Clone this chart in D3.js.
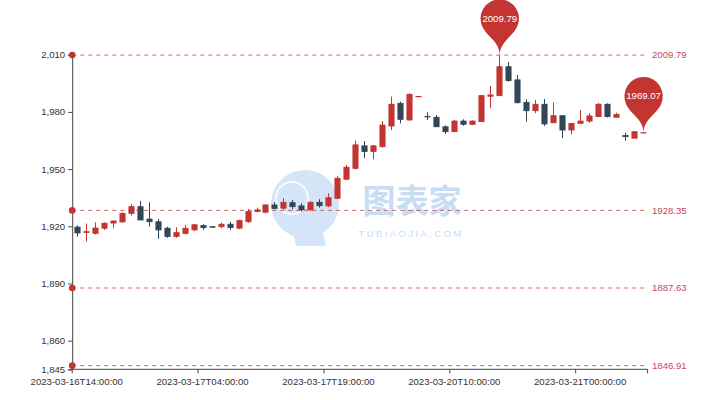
<!DOCTYPE html>
<html><head><meta charset="utf-8">
<script src="https://cdn.jsdelivr.net/npm/d3@7/dist/d3.min.js"></script>
<style>html,body{margin:0;padding:0;background:#fff;}svg{display:block;}</style>
</head><body>
<div id="chart"></div>
<script>
const categories = [
"2023-03-16T14:00:00","2023-03-16T15:00:00","2023-03-16T16:00:00","2023-03-16T17:00:00","2023-03-16T18:00:00",
"2023-03-16T19:00:00","2023-03-16T20:00:00","2023-03-16T21:00:00","2023-03-16T22:00:00","2023-03-16T23:00:00",
"2023-03-17T00:00:00","2023-03-17T01:00:00","2023-03-17T02:00:00","2023-03-17T03:00:00","2023-03-17T04:00:00",
"2023-03-17T06:00:00","2023-03-17T07:00:00","2023-03-17T08:00:00","2023-03-17T09:00:00","2023-03-17T10:00:00",
"2023-03-17T11:00:00","2023-03-17T12:00:00","2023-03-17T13:00:00","2023-03-17T14:00:00","2023-03-17T15:00:00",
"2023-03-17T16:00:00","2023-03-17T17:00:00","2023-03-17T18:00:00","2023-03-17T19:00:00","2023-03-17T20:00:00",
"2023-03-17T21:00:00","2023-03-17T22:00:00","2023-03-17T23:00:00","2023-03-18T00:00:00","2023-03-18T01:00:00",
"2023-03-18T02:00:00","2023-03-18T03:00:00","2023-03-18T04:00:00","2023-03-20T06:00:00","2023-03-20T07:00:00",
"2023-03-20T08:00:00","2023-03-20T09:00:00","2023-03-20T10:00:00","2023-03-20T11:00:00","2023-03-20T12:00:00",
"2023-03-20T13:00:00","2023-03-20T14:00:00","2023-03-20T15:00:00","2023-03-20T16:00:00","2023-03-20T17:00:00",
"2023-03-20T18:00:00","2023-03-20T19:00:00","2023-03-20T20:00:00","2023-03-20T21:00:00","2023-03-20T22:00:00",
"2023-03-20T23:00:00","2023-03-21T00:00:00","2023-03-21T01:00:00","2023-03-21T02:00:00","2023-03-21T03:00:00",
"2023-03-21T04:00:00","2023-03-21T06:00:00","2023-03-21T07:00:00","2023-03-21T08:00:00"];

const opens = [1919.6,1916.8,1916.3,1919.0,1921.7,1922.3,1926.8,1930.3,1923.8,1922.4,
1919.0,1914.6,1916.3,1918.1,1920.4,1919.8,1919.8,1921.1,1919.0,1922.4,
1927.7,1927.4,1931.2,1929.5,1932.4,1930.7,1928.6,1932.6,1930.7,1934.7,
1944.7,1950.4,1962.2,1959.2,1961.8,1972.6,1984.5,1975.8,1987.9,1977.6,
1977.2,1972.2,1969.6,1975.2,1973.5,1974.9,1988.2,1988.5,2003.7,1996.8,
1985.0,1980.6,1984.0,1974.3,1978.0,1970.5,1974.0,1975.2,1977.5,1984.0,
1977.2,1967.6,1966.2,1968.9];
const closes = [1916.5,1917.2,1919.1,1921.6,1922.8,1926.8,1930.3,1923.3,1922.4,1918.1,
1914.6,1916.7,1919.0,1920.8,1919.3,1919.5,1921.1,1919.3,1923.0,1927.7,
1928.6,1931.2,1929.4,1932.6,1930.3,1928.6,1932.6,1930.8,1935.0,1945.2,
1951.0,1962.7,1959.2,1962.2,1973.1,1984.0,1976.1,1989.2,1988.1,1977.4,
1972.2,1969.6,1975.2,1973.5,1975.2,1988.5,1988.9,2003.7,1996.4,1984.8,
1980.6,1984.0,1973.7,1978.0,1970.5,1974.0,1975.2,1977.9,1984.0,1977.5,
1978.7,1967.0,1969.6,1969.07];
const lows = [1914.6,1912.0,1915.7,1918.1,1919.0,1921.9,1925.6,1923.3,1919.8,1913.4,
1914.0,1914.0,1915.8,1917.5,1918.1,1919.3,1919.0,1918.1,1918.5,1921.9,
1927.4,1926.8,1928.9,1928.6,1928.9,1927.7,1928.1,1929.8,1930.0,1934.3,
1944.3,1949.9,1955.7,1955.2,1961.1,1970.5,1974.0,1975.2,1987.8,1975.8,
1972.2,1968.4,1969.6,1972.8,1973.1,1974.7,1981.9,1988.5,1995.8,1984.5,
1974.9,1979.3,1972.6,1974.3,1966.2,1968.2,1973.7,1974.3,1977.3,1977.0,
1977.2,1964.9,1966.2,1968.9];
const highs = [1920.5,1921.5,1922.1,1922.1,1923.0,1927.4,1931.6,1933.3,1932.6,1923.8,
1919.8,1919.5,1920.8,1921.3,1921.1,1920.0,1921.9,1922.4,1923.5,1929.1,
1929.8,1931.5,1932.6,1934.7,1933.8,1932.1,1933.1,1934.2,1937.3,1946.5,
1952.2,1964.9,1964.7,1962.7,1975.2,1988.0,1985.4,1989.8,1988.2,1979.8,
1978.4,1972.9,1975.8,1976.1,1975.5,1988.9,1993.6,2009.79,2006.3,1999.4,
1986.6,1986.2,1986.8,1985.0,1978.0,1974.0,1981.0,1979.3,1984.7,1984.5,
1979.6,1969.1,1970.0,1969.2];

const yTicks = [1845, 1860, 1890, 1920, 1950, 1980, 2010];
const yDomain = [1845, 2010];
const xLabelIndices = [0, 14, 28, 42, 56];
const markLineValues = [2009.79, 1928.35, 1887.63, 1846.91];
const markPointIndex = [47, 63];
const markPointValues = [2009.79, 1969.07];

const W = 720, H = 400;
const UP = "#c23531", DOWN = "#314656";
const FONT = "'Liberation Sans', Arial, sans-serif";
const FS = 9.6;

const svg = d3.select("#chart").append("svg").attr("width", W).attr("height", H);

const x = d3.scaleBand().domain(categories).range([72.2, 647.6]).padding(0);
const y = d3.scaleLinear().domain(yDomain).range([369.3, 54.7]);
const bw = x.bandwidth();

// watermark
const wm = svg.append("g").attr("class", "watermark");
wm.append("circle").attr("cx", 305).attr("cy", 204).attr("r", 34).attr("fill", "#d4e5f8");
wm.append("path").attr("d", "M292,228 L322,228 L326,246 L296,246 Z").attr("fill", "#d4e5f8");
wm.append("circle").attr("cx", 292).attr("cy", 198).attr("r", 16).attr("fill", "none").attr("stroke", "#ffffff").attr("stroke-width", 2).attr("opacity", 0.8);
wm.append("text").attr("x", 412).attr("y", 213).attr("text-anchor", "middle")
  .attr("font-family", "'Noto Sans CJK SC', sans-serif").attr("font-weight", "bold").attr("font-size", 33)
  .attr("fill", "#c7dcf5").text("图表家");
wm.append("text").attr("x", 411).attr("y", 237).attr("text-anchor", "middle")
  .attr("font-family", FONT).attr("font-size", 9.5).attr("letter-spacing", 2.4)
  .attr("fill", "#c7dcf5").text("TUBIAOJIA.COM");

// axes
const axisColor = "#444";
const gy = svg.append("g").attr("transform", "translate(72.2,0)")
  .call(d3.axisLeft(y).tickValues(yTicks).tickFormat(d3.format(",")).tickSize(4).tickPadding(3));
gy.select(".domain").attr("stroke", axisColor);
gy.selectAll(".tick line").attr("stroke", axisColor);
gy.selectAll(".tick text").attr("font-family", FONT).attr("font-size", FS).attr("fill", "#333");

const gx = svg.append("g").attr("transform", "translate(0,369.3)");
gx.append("line").attr("x1", x.range()[0]).attr("x2", x.range()[1]).attr("stroke", axisColor);
const tickPos = xLabelIndices.map(i => x(categories[i])).concat([x.range()[1]]);
gx.selectAll("line.tk").data(tickPos).join("line").attr("class", "tk")
  .attr("x1", d => d).attr("x2", d => d).attr("y1", 0).attr("y2", 4).attr("stroke", axisColor);
gx.selectAll("text").data(xLabelIndices).join("text")
  .attr("x", i => x(categories[i]) + bw / 2).attr("y", 15.5)
  .attr("text-anchor", "middle").attr("font-family", FONT).attr("font-size", FS).attr("fill", "#333")
  .text(i => categories[i]);

// candles
const data = categories.map((c, i) => ({c, o: opens[i], cl: closes[i], l: lows[i], h: highs[i]}));
const cg = svg.append("g");
const col = d => d.cl >= d.o ? UP : DOWN;
cg.selectAll("line.wick").data(data).join("line").attr("class", "wick")
  .attr("x1", d => Math.round(x(d.c) + bw / 2) + 0.5).attr("x2", d => Math.round(x(d.c) + bw / 2) + 0.5)
  .attr("y1", d => y(d.h)).attr("y2", d => y(d.l)).attr("stroke", col).attr("stroke-width", 1);
cg.selectAll("rect.body").data(data).join("rect").attr("class", "body")
  .attr("x", d => Math.round(x(d.c) + bw / 2) + 0.5 - 2.6)
  .attr("width", 5.2)
  .attr("y", d => y(Math.max(d.o, d.cl)))
  .attr("height", d => Math.max(0.3, Math.abs(y(d.o) - y(d.cl))))
  .attr("fill", col).attr("stroke", col).attr("stroke-width", 0.8);

// mark lines
const mlColor = "#c23531";
const ml = svg.append("g");
ml.selectAll("line").data(markLineValues).join("line")
  .attr("x1", x.range()[0]).attr("x2", x.range()[1])
  .attr("y1", d => y(d)).attr("y2", d => y(d))
  .attr("stroke", mlColor).attr("stroke-opacity", 0.75).attr("stroke-dasharray", "4,4").attr("stroke-width", 1);
ml.selectAll("circle").data(markLineValues).join("circle")
  .attr("cx", x.range()[0]).attr("cy", d => y(d)).attr("r", 3.3).attr("fill", mlColor);
ml.selectAll("text").data(markLineValues).join("text")
  .attr("x", x.range()[1] + 4.4).attr("y", d => y(d)).attr("dy", "0.35em")
  .attr("font-family", FONT).attr("font-size", FS).attr("fill", "#c0485a")
  .text(d => d.toFixed(2));

// mark points (pins)
function pinPath(px, py) {
  const r = 19.2, h = 64;
  const dy = r * r / (h - r);
  const cy = py - h + r + dy;
  const ang = Math.asin(dy / r);
  const dx = Math.cos(ang) * r;
  const tX = Math.sin(ang), tY = Math.cos(ang);
  const cp = r * 0.6, cp2 = r * 0.7;
  return `M${px - dx},${cy + dy} A${r},${r} 0 1 1 ${px + dx},${cy + dy} ` +
    `C${px + dx - tX * cp},${cy + dy + tY * cp} ${px},${py - cp2} ${px},${py} ` +
    `C${px},${py - cp2} ${px - dx + tX * cp},${cy + dy + tY * cp} ${px - dx},${cy + dy} Z`;
}
const mp = svg.append("g");
markPointIndex.forEach((idx, k) => {
  const px = x(categories[idx]) + bw / 2 + 0.5, py = y(markPointValues[k]);
  mp.append("path").attr("d", pinPath(px, py)).attr("fill", UP);
  mp.append("text").attr("x", px).attr("y", py - 36.6).attr("dy", "0.35em").attr("text-anchor", "middle")
    .attr("font-family", FONT).attr("font-size", FS).attr("fill", "#fff").text(markPointValues[k].toFixed(2));
});
</script>
</body></html>
